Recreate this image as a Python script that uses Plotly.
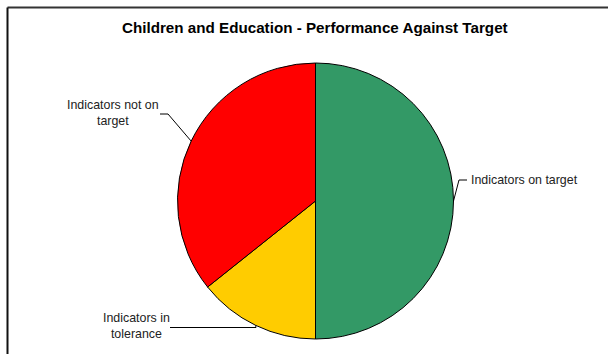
import math
import plotly.graph_objects as go

# Data
categories = ["Indicators on target", "Indicators in tolerance", "Indicators not on target"]
values = [14, 4, 10]
colors = ["#339966", "#FFCC00", "#FF0000"]
title_text = "Children and Education - Performance Against Target"

W, H = 608, 354
CX, CY, R = 315.5, 201.0, 138.0  # pie centre / radius in px (layout)

def px(x):
    return x / W

def py(y):
    return 1 - y / H

fig = go.Figure(go.Pie(
    labels=categories, values=values, sort=False, direction="clockwise", rotation=0,
    marker=dict(colors=colors, line=dict(color="black", width=1)),
    textinfo="none", hoverinfo="label+value+percent", showlegend=False,
    domain=dict(x=[px(CX - R), px(CX + R)], y=[py(CY + R), py(CY - R)]),
))

# slice mid angles (clockwise from 12 o'clock) computed from data
total = sum(values)
mids = []
acc = 0
for v in values:
    mids.append((acc + v / 2) / total * 2 * math.pi)
    acc += v
edge = [(CX + R * math.sin(a), CY - R * math.cos(a)) for a in mids]

# label layout: (elbow point, end point, text pos, text, anchor)
label_layout = [
    ((459, 180), (467, 180), (469, 180), "Indicators on target", "left"),
    ((256, 327.5), (170, 327.5), (136, 326), "Indicators in<br>tolerance", "center"),
    ((168, 114), (160, 114), (113, 113.5), "Indicators not on<br>target", "center"),
]

LABEL_FONT = dict(family="Liberation Sans, Arial, sans-serif", size=12.4, color="#222")

shapes = []
annotations = []
for i in range(3):
    ex, ey = edge[i]
    (ebx, eby), (ex2, ey2), (tx, ty), txt, anch = label_layout[i]
    shapes.append(dict(type="line", xref="paper", yref="paper", x0=px(ex), y0=py(ey), x1=px(ebx), y1=py(eby),
                       line=dict(color="black", width=1)))
    shapes.append(dict(type="line", xref="paper", yref="paper", x0=px(ebx), y0=py(eby), x1=px(ex2), y1=py(ey2),
                       line=dict(color="black", width=1)))
    annotations.append(dict(xref="paper", yref="paper", x=px(tx), y=py(ty), text=txt, showarrow=False,
                            xanchor="left" if anch == "left" else "center", yanchor="middle", align="center",
                            font=LABEL_FONT))

# Title
annotations.append(dict(xref="paper", yref="paper", x=px(314.5), y=py(27.5), text="<b>" + title_text + "</b>",
                        showarrow=False, xanchor="center", yanchor="middle",
                        font=dict(family="Liberation Sans, Arial, sans-serif", size=15.2, color="black")))

# Chart frame (top and left borders)
shapes.append(dict(type="line", xref="paper", yref="paper", x0=px(7.5), y0=py(7.5), x1=1.0, y1=py(7.5),
                   line=dict(color="#333", width=2)))
shapes.append(dict(type="line", xref="paper", yref="paper", x0=px(7.5), y0=py(7.5), x1=px(7.5), y1=0.0,
                   line=dict(color="#111", width=2)))

fig.update_layout(width=W, height=H, margin=dict(l=0, r=0, t=0, b=0),
                  paper_bgcolor="white", plot_bgcolor="white",
                  shapes=shapes, annotations=annotations)

fig.write_html("out.html", config={"displayModeBar": False},
               post_script="document.body.style.margin='0';document.body.style.overflow='hidden';")
